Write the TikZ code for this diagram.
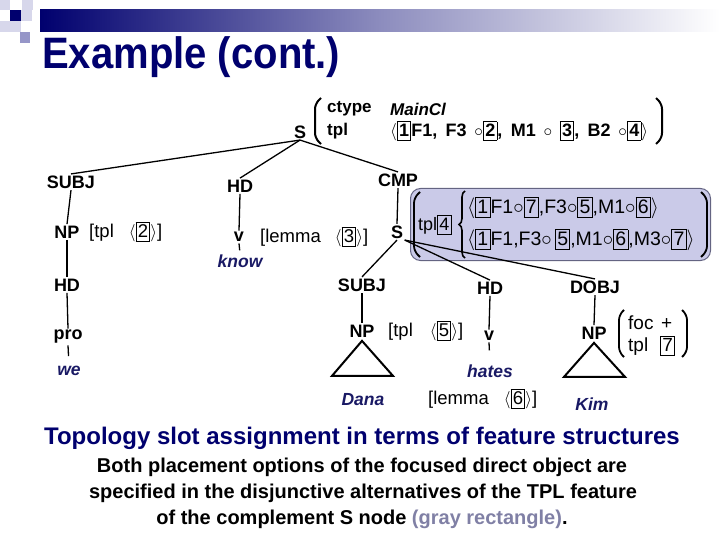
\documentclass[tikz,border=0pt]{standalone}
\usepackage{fontspec}
\setmainfont{Liberation Sans}
\usetikzlibrary{decorations.pathreplacing,calc}
\definecolor{navy}{RGB}{0,0,110}
\definecolor{wordblue}{RGB}{25,25,100}
\definecolor{boxfill}{RGB}{202,202,232}
\definecolor{boxline}{RGB}{100,100,130}
\definecolor{graytxt}{RGB}{128,128,165}
\definecolor{sqlight}{RGB}{215,215,235}
\definecolor{sqmid}{RGB}{150,150,200}
\newcommand{\bxn}[1]{{\setlength{\fboxsep}{1.3pt}\setlength{\fboxrule}{0.9pt}\fbox{\rule[-0.12em]{0pt}{0.86em}#1}}}
\newcommand{\la}{$\langle$}
\newcommand{\ra}{$\rangle$}
\newcommand{\cc}{$\circ$}
\tikzset{
  lbl/.style={font=\fontsize{18}{20}\selectfont\bfseries, inner sep=1.5pt},
  word/.style={font=\fontsize{17.5}{20}\selectfont\bfseries\itshape, text=wordblue, inner sep=1pt},
  ann/.style={font=\fontsize{18.5}{20}\selectfont, inner sep=0pt, anchor=west},
  avm/.style={font=\fontsize{17}{19}\selectfont\bfseries, inner sep=0pt, anchor=west},
  inb/.style={font=\fontsize{19.5}{21}\selectfont, inner sep=0pt, anchor=west},
  edge/.style={line width=1.3pt},
  paren/.style={line width=2pt, rounded corners=5pt},
  tri/.style={line width=2pt, line join=miter},
}
\begin{document}
\begin{tikzpicture}[x=1pt,y=-1pt]
\useasboundingbox (0,0) rectangle (720,540);
% header decoration
\shade[left color=navy, right color=white, middle color=navy!45] (40,10) rectangle (720,32);
\fill[sqlight] (0,0) rectangle (10,10);
\fill[sqlight] (22,0) rectangle (33,10);
\fill[navy] (10,10) rectangle (21,21);
\fill[sqlight] (21,10) rectangle (32,21);
\fill[sqlight] (0,21) rectangle (10,32);
\fill[sqlight] (10,21) rectangle (21,32);
\fill[sqmid] (20,32) rectangle (30,43);
% title
\node[anchor=west, text=navy, font=\fontsize{44}{48}\selectfont\bfseries, inner sep=0pt] (title) at (42,57) {\scalebox{0.91}[1]{Example (cont.)}};

% top S with AVM
\node[lbl] (S0) at (300,132) {S};
\draw[paren] (321,98) -- (315,104) -- (315,138) -- (321,144);
\draw[paren] (656,98) -- (662,104) -- (662,138) -- (656,144);
\node[avm] (ctype) at (327,109) {ctype};
\node[avm, font=\fontsize{17}{19}\selectfont\bfseries\itshape] (mcl) at (390,109) {MainCl};
\node[avm] (tpl0) at (327,131) {tpl};
\node[avm, font=\fontsize{18}{20}\selectfont\bfseries] (tup0) at (390,131) {\makebox[258pt][s]{\la\bxn{1}F1, F3 \cc\bxn{2}, M1 \cc\ \bxn{3}, B2 \cc\bxn{4}\ra}};

% first level
\node[lbl] (SUBJ1) at (71,182) {SUBJ};
\node[lbl] (HD1) at (240,186) {HD};
\node[lbl] (CMP1) at (398,180) {CMP};
\draw[edge] (S0.south) -- (SUBJ1.north);
\draw[edge] (S0.south) -- (HD1.north);
\draw[edge] (S0.south) -- (CMP1.north);

% subject column
\node[lbl] (NP1) at (67,232) {NP};
\node[ann] (a1) at (89,232) {\makebox[73pt][s]{[tpl \la\bxn{2}\ra]}};
\node[lbl] (HD2) at (67,285) {HD};
\node[lbl] (pro) at (68,337) {pro};
\node[word] (we) at (69,371) {we};
\draw[edge] (SUBJ1.south) -- (NP1.north);
\draw[edge] (NP1.south) -- (HD2.north);
\draw[edge] (HD2.south) -- (pro.north);
\draw[edge, shorten >=9pt] (pro.south) -- (we.north);

% head column
\node[lbl] (v1) at (239,237) {v};
\node[ann] (a3) at (260,237) {\makebox[108pt][s]{[lemma \la\bxn{3}\ra]}};
\node[word] (know) at (240,261) {know};
\draw[edge] (HD1.south) -- (v1.north);
\draw[edge, shorten >=3pt] (v1.south) -- (know.north);

% complement S
\node[lbl] (S2) at (397,232) {S};
\draw[edge] (CMP1.south) -- (S2.north);
\node[draw=boxline, fill=boxfill, line width=1pt, rounded corners=10pt, minimum width=300pt, minimum height=72pt, anchor=north west] (gbox) at (410,188) {};
\draw[paren, line width=1.8pt] (420,192) -- (414,198) -- (414,251) -- (420,257);
\draw[paren, line width=1.8pt] (701,192) -- (707,198) -- (707,251) -- (701,257);
\node[inb, font=\fontsize{18}{20}\selectfont] (tplb) at (418,225) {tpl\bxn{4}};
\draw[line width=1.6pt, decorate, decoration={brace, amplitude=6pt}] (465,258) -- (465,191);
\node[inb] (alt1) at (467,208) {\la\bxn{1}F1\cc\bxn{7},F3\cc\bxn{5},M1\cc\bxn{6}\ra};
\node[inb] (alt2) at (467,240) {\la\bxn{1}F1,F3\cc\,\bxn{5},M1\cc\bxn{6},M3\cc\bxn{7}\ra};

% second level
\node[lbl] (SUBJ2) at (362,285) {SUBJ};
\node[lbl] (HD3) at (490,288) {HD};
\node[lbl] (DOBJ) at (595,287) {DOBJ};
\draw[edge] (S2.south) -- (SUBJ2.north);
\draw[edge] (S2.south east) -- (HD3.north);
\draw[edge] (S2.south east) -- (DOBJ.north);

% embedded subject
\node[lbl] (NP2) at (362,331) {NP};
\node[ann] (a5) at (388,331) {\makebox[75pt][s]{[tpl \la\bxn{5}\ra]}};
\draw[edge] (SUBJ2.south) -- (NP2.north);
\draw[tri] ($(NP2.south)+(0,2)$) -- ++(-30,35) -- ++(61,0) -- cycle;
\node[word] (Dana) at (363,400) {Dana};

% embedded head
\node[lbl] (v2) at (489,336) {v};
\node[word] (hates) at (490,371) {hates};
\node[ann] (a6) at (428,399) {\makebox[109pt][s]{[lemma \la\bxn{6}\ra]}};
\draw[edge] (HD3.south) -- (v2.north);
\draw[edge, shorten >=13pt] (v2.south) -- (hates.north);

% direct object
\node[lbl] (NP3) at (594,333) {NP};
\draw[edge] (DOBJ.south) -- (NP3.north);
\draw[paren, line width=1.8pt] (624,310) -- (619,315) -- (619,352) -- (624,357);
\draw[paren, line width=1.8pt] (682,310) -- (687,315) -- (687,352) -- (682,357);
\node[inb, font=\fontsize{19}{21}\selectfont] (foc) at (628,323) {\makebox[44pt][s]{foc +}};
\node[inb, font=\fontsize{19}{21}\selectfont] (tpl7) at (628,346) {\makebox[47pt][s]{tpl \bxn{7}}};
\draw[tri] ($(NP3.south)+(0,2)$) -- ++(-30,34) -- ++(61,0) -- cycle;
\node[word] (Kim) at (592,404) {Kim};

% caption
\node[text=navy, font=\fontsize{24}{26}\selectfont\bfseries, inner sep=0pt] (cap) at (362,438) {Topology slot assignment in terms of feature structures};
\node[font=\fontsize{20}{22}\selectfont\bfseries, inner sep=0pt] (l1) at (362,467) {Both placement options of the focused direct object are};
\node[font=\fontsize{20}{22}\selectfont\bfseries, inner sep=0pt] (l2) at (363,493) {specified in the disjunctive alternatives of the TPL feature};
\node[font=\fontsize{20}{22}\selectfont\bfseries, inner sep=0pt] (l3) at (362,519) {of the complement S node \textcolor{graytxt}{(gray rectangle)}.};
\end{tikzpicture}
\end{document}
